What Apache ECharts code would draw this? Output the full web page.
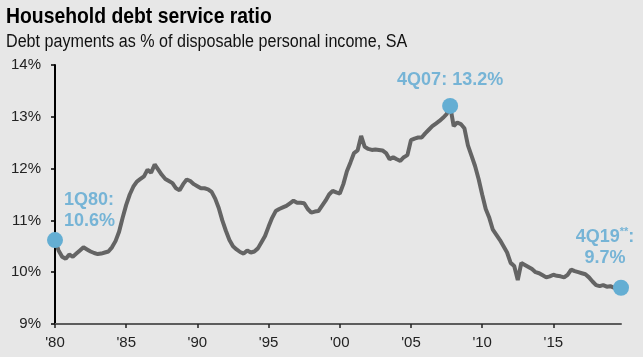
<!DOCTYPE html>
<html>
<head>
<meta charset="utf-8">
<script src="https://cdn.jsdelivr.net/npm/echarts@6/dist/echarts.min.js"></script>
<style>
html,body{margin:0;padding:0;background:#e7e7e7;}
#c{width:643px;height:357px;}
</style>
</head>
<body>
<div id="c"></div>
<script>
// Data
var years = [1980,1981,1982,1983,1984,1985,1986,1987,1988,1989,1990,1991,1992,1993,1994,1995,1996,1997,1998,1999,2000,2001,2002,2003,2004,2005,2006,2007,2008,2009,2010,2011,2012,2013,2014,2015,2016,2017,2018,2019];
var quarters = ['Q1','Q2','Q3','Q4'];
var dsr = [
  10.62, 10.42, 10.30, 10.26,
  10.34, 10.30, 10.36, 10.42,
  10.48, 10.44, 10.40, 10.37,
  10.35, 10.36, 10.38, 10.40,
  10.48, 10.60, 10.78, 11.05,
  11.30, 11.50, 11.65, 11.75,
  11.80, 11.85, 11.98, 11.92,
  12.08, 11.98, 11.88, 11.80,
  11.76, 11.72, 11.62, 11.58,
  11.70, 11.79, 11.76, 11.70,
  11.66, 11.62, 11.62, 11.60,
  11.55, 11.42, 11.24, 11.00,
  10.80, 10.62, 10.50, 10.44,
  10.39, 10.36, 10.42, 10.38,
  10.40, 10.46, 10.58, 10.70,
  10.88, 11.05, 11.18, 11.22,
  11.25, 11.28, 11.33, 11.38,
  11.34, 11.34, 11.33, 11.22,
  11.15, 11.17, 11.18, 11.28,
  11.38, 11.50, 11.57, 11.54,
  11.52, 11.70, 11.95, 12.12,
  12.30, 12.35, 12.63, 12.42,
  12.38, 12.36, 12.37, 12.36,
  12.35, 12.30, 12.18, 12.22,
  12.18, 12.15, 12.22, 12.26,
  12.55, 12.58, 12.60, 12.60,
  12.68, 12.75, 12.82, 12.87,
  12.92, 12.98, 13.05, 13.21,
  12.82, 12.89, 12.86, 12.78,
  12.45, 12.25, 12.05, 11.80,
  11.50, 11.22, 11.05, 10.82,
  10.72, 10.62, 10.50, 10.38,
  10.18, 10.12, 9.85, 10.18,
  10.14, 10.10, 10.06, 10.00,
  9.98, 9.94, 9.90, 9.92,
  9.95, 9.93, 9.92, 9.90,
  9.95, 10.05, 10.02, 10.00,
  9.98, 9.96, 9.90, 9.82,
  9.75, 9.73, 9.75, 9.72,
  9.73, 9.70, 9.71, 9.70
];
var highlightIdx = [0, 111, 159];
var highlightText = ['1Q80:\n10.6%', '4Q07: 13.2%', '{a|4Q19}{s|**}{a|:}\n{a|9.7%}'];
var yTicks = [9, 10, 11, 12, 13, 14];
var titleText = 'Household debt service ratio';
var subtitleText = 'Debt payments as % of disposable personal income, SA';

var cats = [];
years.forEach(function (y) { quarters.forEach(function (q) { cats.push(y + q); }); });

var blue = '#64aed3';
var labelBlue = '#76b4d6';
var baseLabel = { show: true, color: labelBlue, fontFamily: 'Liberation Sans, Arial', fontWeight: 'bold', fontSize: 18, lineHeight: 21 };
var labelCfgs = [
  Object.assign({}, baseLabel, { position: [17, -43], align: 'left', verticalAlign: 'top' }),
  Object.assign({}, baseLabel, { position: 'top', distance: 7, align: 'center' }),
  Object.assign({}, baseLabel, { position: 'top', distance: 11, offset: [-16, 0], align: 'center',
    rich: { a: { fontFamily: 'Liberation Sans, Arial', fontWeight: 'bold', fontSize: 18, color: labelBlue, lineHeight: 21 },
            s: { fontFamily: 'Liberation Sans, Arial', fontWeight: 'bold', fontSize: 11, color: labelBlue, lineHeight: 21, verticalAlign: 'top', padding: [0, 0, 6, 0] } } })
];
var hlData = highlightIdx.map(function (idx, k) {
  return { value: [idx, dsr[idx]], label: Object.assign({}, labelCfgs[k], { formatter: highlightText[k] }) };
});

var chart = echarts.init(document.getElementById('c'), null, { renderer: 'canvas' });
chart.setOption({
  backgroundColor: '#e7e7e7',
  animation: false,
  graphic: [
    { type: 'text', x: 6, y: 6, scaleX: 0.88,
      style: { text: titleText, font: 'bold 22px "Liberation Sans", Arial', fill: '#000', verticalAlign: 'top' } },
    { type: 'text', x: 6, y: 33, scaleX: 0.895,
      style: { text: subtitleText, font: '18px "Liberation Sans", Arial', fill: '#111', verticalAlign: 'top' } }
  ],
  grid: { left: 55, right: 22, top: 65, bottom: 33, containLabel: false },
  xAxis: {
    type: 'category', data: cats, boundaryGap: false,
    axisLine: { lineStyle: { color: '#5c5c5c', width: 2 } },
    axisTick: { show: true, length: 4, lineStyle: { color: '#222', width: 1.5 },
      interval: function (i) { return i % 20 === 0; } },
    axisLabel: { interval: function (i) { return i % 20 === 0; }, margin: 11,
      formatter: function (v) { return "'" + v.slice(2, 4); },
      fontFamily: 'Liberation Sans, Arial', fontSize: 15, color: '#222' },
    splitLine: { show: false }
  },
  yAxis: {
    type: 'value', min: yTicks[0], max: yTicks[yTicks.length - 1], interval: 1,
    axisLine: { show: true, lineStyle: { color: '#000', width: 2 } },
    axisTick: { show: true, length: 4, lineStyle: { color: '#000', width: 1.5 } },
    axisLabel: { formatter: '{value}%', margin: 14, fontFamily: 'Liberation Sans, Arial', fontSize: 15, color: '#222' },
    splitLine: { show: false }
  },
  series: [
    { type: 'line', data: dsr, showSymbol: false, symbol: 'none',
      lineStyle: { color: '#646464', width: 4 }, z: 2 },
    { type: 'scatter', data: hlData, symbolSize: 16, itemStyle: { color: blue, opacity: 1 }, z: 5 }
  ]
});
</script>
</body>
</html>
